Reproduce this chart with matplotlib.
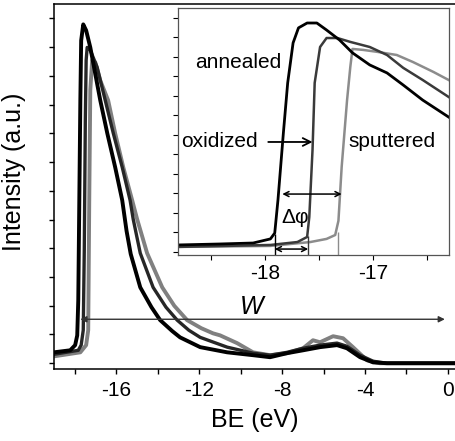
import matplotlib
matplotlib.use("Agg")
import matplotlib.pyplot as plt

plt.rcParams["font.family"] = ["Liberation Sans", "DejaVu Sans"]

# main UPS spectra: BE (eV) vs intensity (a.u.)
ann_be = [-19.0, -18.22, -17.98, -17.88, -17.83, -17.78, -17.73, -17.69, -17.59, -17.45, -17.25,
          -16.77, -16.43, -16.05, -15.71, -15.5, -15.3, -14.84, -14.3, -13.88, -13.3, -12.92,
          -11.95, -10.65, -9.40, -8.58, -7.76, -6.99, -6.17, -5.35, -4.87, -4.24, -3.61, -2.94, 0.4]
ann_i = [0.38, 0.45, 0.63, 0.97, 2.19, 5.67, 9.15, 11.23, 11.79, 11.58, 10.99,
         9.15, 8.0, 6.82, 5.67, 4.6, 3.8, 2.64, 1.95, 1.50, 1.12, 0.90,
         0.56, 0.38, 0.28, 0.21, 0.35, 0.45, 0.56, 0.63, 0.52, 0.21, 0.03, 0.0, 0.0]

oxi_be = [-19.0, -17.83, -17.69, -17.59, -17.54, -17.49, -17.45, -17.40, -17.25, -16.92, -16.53,
          -16.14, -15.71, -15.33, -15.18, -14.84, -14.22, -13.6, -13.06, -12.5, -11.95, -10.65,
          -9.40, -8.58, -7.76, -6.99, -6.17, -5.35, -4.87, -4.24, -3.61, -2.94, 0.4]
oxi_i = [0.31, 0.45, 0.63, 1.15, 3.93, 8.45, 10.54, 10.99, 10.89, 10.30, 9.15,
         8.0, 6.82, 5.67, 5.01, 3.83, 2.64, 1.95, 1.50, 1.15, 0.90, 0.56,
         0.35, 0.28, 0.38, 0.52, 0.63, 0.70, 0.59, 0.28, 0.07, 0.0, 0.0]

spu_be = [-19.0, -17.73, -17.45, -17.35, -17.30, -17.25, -17.16, -17.01, -16.77, -16.39, -16.05,
          -15.66, -15.23, -14.99, -14.51, -13.78, -13.2, -12.58, -11.9, -11.33, -10.99, -10.17,
          -9.40, -8.58, -7.76, -6.99, -6.51, -6.17, -5.54, -5.06, -4.58, -3.90, -3.28, 0.4]
spu_i = [0.24, 0.38, 0.63, 1.15, 5.67, 9.50, 10.54, 10.47, 9.84, 9.15, 8.0,
         6.82, 5.67, 5.01, 3.83, 2.64, 2.0, 1.50, 1.22, 1.04, 0.97, 0.70,
         0.38, 0.28, 0.35, 0.52, 0.80, 0.73, 0.94, 0.87, 0.56, 0.10, 0.0, 0.0]

# inset: zoom on the secondary-electron cutoff
ann_be_z = [-18.81, -18.42, -18.11, -17.95, -17.91, -17.88, -17.83, -17.79, -17.74, -17.69, -17.61,
            -17.52, -17.43, -17.31, -17.19, -17.03, -16.87, -16.72, -16.54, -16.30]
ann_i_z = [0.36, 0.41, 0.46, 0.67, 0.97, 2.67, 6.10, 8.67, 10.72, 11.49, 11.74,
           11.74, 11.38, 10.87, 10.21, 9.59, 9.18, 8.56, 7.79, 6.92]

oxi_be_z = [-18.81, -17.95, -17.70, -17.61, -17.59, -17.56, -17.54, -17.49, -17.43, -17.33, -17.21,
            -17.03, -16.87, -16.72, -16.54, -16.30]
oxi_i_z = [0.26, 0.36, 0.51, 0.77, 1.79, 5.23, 8.67, 10.51, 10.97, 10.97, 10.77,
           10.51, 10.10, 9.44, 8.82, 7.95]

spu_be_z = [-18.81, -17.95, -17.58, -17.43, -17.35, -17.32, -17.29, -17.24, -17.21, -17.19, -17.09,
            -16.96, -16.78, -16.63, -16.44, -16.30]
spu_i_z = [0.26, 0.31, 0.51, 0.67, 0.87, 1.6, 4.36, 7.79, 9.49, 10.41, 10.36,
           10.26, 10.10, 9.74, 9.23, 8.82]

edges = [-17.91, -17.60, -17.32]  # cutoff positions (annealed, oxidized, sputtered)

fig = plt.figure(figsize=(4.55, 4.41), dpi=100)
ax = fig.add_axes([0.1187, 0.1633, 0.8813, 0.8277])
ax.plot(spu_be, spu_i, color="#808080", lw=2.8, solid_joinstyle="round")
ax.plot(oxi_be, oxi_i, color="#262626", lw=2.4, solid_joinstyle="round")
ax.plot(ann_be, ann_i, color="black", lw=2.8, solid_joinstyle="round")
ax.set_xlim(-19, 0.34)
ax.set_ylim(-0.2, 12.5)
ax.set_xticks([-16, -12, -8, -4, 0])
ax.set_xticklabels(["-16", "-12", "-8", "-4", "0"])
ax.set_xticks([-18, -14, -10, -6, -2], minor=True)
ax.set_yticks(range(13))
ax.set_yticklabels([])
ax.tick_params(which="both", direction="out", length=3.5, width=1, labelsize=15, pad=5)
ax.spines["right"].set_visible(False)
for s in ["left", "bottom", "top"]:
    ax.spines[s].set_linewidth(1.1)
ax.set_xlabel("BE (eV)", fontsize=18, labelpad=6)
ax.set_ylabel("Intensity (a.u.)", fontsize=18)
ax.yaxis.set_label_coords(-0.07, 0.54)

# work-function width arrow
ax.annotate("", xy=(-0.15, 1.53), xytext=(-17.73, 1.53),
            arrowprops=dict(arrowstyle="<|-|>", color="#333333", lw=1, mutation_scale=9,
                            shrinkA=0, shrinkB=0))
ax.text(-9.45, 1.95, "W", fontsize=18, style="italic", ha="center", va="center")

ins = fig.add_axes([0.3912, 0.4218, 0.5956, 0.5601])
ins.set_zorder(3)
ins.plot(spu_be_z, spu_i_z, color="#8c8c8c", lw=1.8)
ins.plot(oxi_be_z, oxi_i_z, color="#3a3a3a", lw=1.8)
ins.plot(ann_be_z, ann_i_z, color="black", lw=2.0)
ins.vlines(edges, -0.2, [0.9, 0.8, 1.0], colors=["black", "#3a3a3a", "#8c8c8c"], lw=1.0)
ins.set_xlim(-18.806, -16.296)
ins.set_ylim(-0.154, 12.51)
ins.set_xticks([-18, -17])
ins.set_xticklabels(["-18", "-17"])
ins.set_xticks([-18.5, -17.5, -16.5], minor=True)
ins.set_yticks(range(13))
ins.set_yticklabels([])
ins.tick_params(which="both", direction="out", length=3.5, width=0.8, labelsize=15, pad=3)
for s in ins.spines.values():
    s.set_color("#555555")
    s.set_linewidth(0.9)

ins.text(-18.25, 9.74, "annealed", fontsize=15, ha="center", va="center")
ins.text(-18.42, 5.64, "oxidized", fontsize=15, ha="center", va="center")
ins.text(-16.82, 5.64, "sputtered", fontsize=15, ha="center", va="center")
ins.annotate("", xy=(-17.56, 5.64), xytext=(-17.97, 5.64),
             arrowprops=dict(arrowstyle="->", color="black", lw=1.3, shrinkA=0, shrinkB=0,
                             mutation_scale=14))
ins.annotate("", xy=(-17.29, 2.97), xytext=(edges[0] + 0.07, 2.97),
             arrowprops=dict(arrowstyle="<->", color="black", lw=1.1, shrinkA=0, shrinkB=0,
                             mutation_scale=9))
ins.annotate("", xy=(edges[1], 0.15), xytext=(edges[0], 0.15),
             arrowprops=dict(arrowstyle="<->", color="black", lw=1.1, shrinkA=0, shrinkB=0,
                             mutation_scale=9))
ins.text(-17.72, 1.79, "Δφ", fontsize=15, ha="center", va="center")

fig.savefig("out.png", dpi=100)
